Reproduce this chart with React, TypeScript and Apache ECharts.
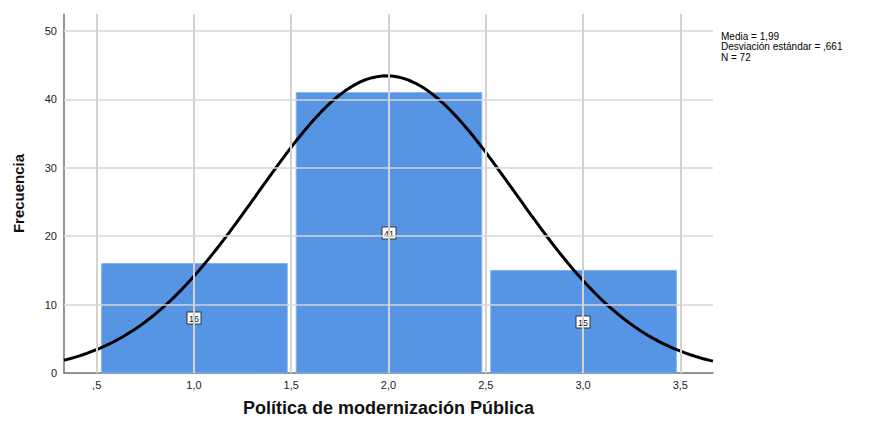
import React, { useEffect, useRef } from "react";
import * as echarts from "echarts";

// Histogram bins (lower edge, upper edge) and frequencies
const binStarts = [0.5, 1.5, 2.5];
const binEnds = [1.5, 2.5, 3.5];
const frequencies = [16, 41, 15];

// Summary statistics shown on the chart
const mean = 1.99;
const stdDev = 0.661;
const n = 72;

// Axis ticks
const xTicks = [0.5, 1.0, 1.5, 2.0, 2.5, 3.0, 3.5];
const yTicks = [0, 10, 20, 30, 40, 50];

const xMin = 0.332;
const xMax = 3.668;
const yMax = 52.5;

const FONT = "Arial, 'Liberation Sans', sans-serif";

// Normal curve implied by the displayed statistics (N * bin width * density)
function normalCurve(): number[][] {
  const pts: number[][] = [];
  const binWidth = 1;
  const steps = 200;
  for (let i = 0; i <= steps; i++) {
    const x = xMin + ((xMax - xMin) * i) / steps;
    const z = (x - mean) / stdDev;
    const y = (n * binWidth * Math.exp(-0.5 * z * z)) / (stdDev * Math.sqrt(2 * Math.PI));
    pts.push([x, y]);
  }
  return pts;
}

function fmtX(v: number): string {
  return v.toFixed(1).replace(".", ",").replace(/^0/, "");
}

function fmtNum(v: number, d: number): string {
  return v.toFixed(d).replace(".", ",").replace(/^0,/, ",");
}

export default function App() {
  const ref = useRef<HTMLDivElement>(null);

  useEffect(() => {
    if (!ref.current) return;
    const chart = echarts.init(ref.current, null, { renderer: "svg" });

    const barData = binStarts.map((s, i) => [s, binEnds[i], frequencies[i]]);

    const option: any = {
      animation: false,
      backgroundColor: "#ffffff",
      grid: { left: 64, right: 158, top: 14, bottom: 45, containLabel: false },
      xAxis: {
        type: "value",
        min: xMin,
        max: xMax,
        name: "Política de modernización Pública",
        nameLocation: "middle",
        nameGap: 26,
        nameTextStyle: { fontFamily: FONT, fontSize: 18, fontWeight: "bold", color: "#111" },
        axisLine: { show: true, onZero: false, lineStyle: { color: "#707070", width: 1.5 } },
        axisTick: { show: false, customValues: xTicks },
        axisLabel: {
          customValues: xTicks,
          formatter: (v: number) => fmtX(v),
          fontFamily: FONT,
          fontSize: 11,
          color: "#222",
          margin: 6,
        },
        splitLine: { show: false },
      },
      yAxis: {
        type: "value",
        min: 0,
        max: yMax,
        name: "Frecuencia",
        nameLocation: "middle",
        nameGap: 38,
        nameTextStyle: { fontFamily: FONT, fontSize: 15, fontWeight: "bold", color: "#111" },
        axisLine: { show: true, lineStyle: { color: "#707070", width: 1.5 } },
        axisTick: { show: false, customValues: yTicks },
        axisLabel: {
          customValues: yTicks,
          fontFamily: FONT,
          fontSize: 11,
          color: "#222",
          margin: 7,
        },
        splitLine: { show: false },
      },
      graphic: [
        {
          type: "text",
          left: 721,
          top: 31,
          style: {
            text: `Media = ${fmtNum(mean, 2)}\nDesviación estándar = ${fmtNum(stdDev, 3)}\nN = ${n}`,
            font: `10px ${FONT}`,
            fill: "#000",
            lineHeight: 10.5,
          },
        },
      ],
      series: [
        {
          type: "line",
          data: [],
          z: 1,
          silent: true,
          markLine: {
            silent: true,
            symbol: "none",
            label: { show: false },
            animation: false,
            data: [
              ...xTicks.map((v) => ({ xAxis: v, lineStyle: { color: "#d2d2d2", width: 2, type: "solid" } })),
              ...yTicks
                .filter((v) => v > 0)
                .map((v) => ({ yAxis: v, lineStyle: { color: "#d6d6d6", width: 1.5, type: "solid" } })),
            ],
          },
        },
        {
          type: "custom",
          z: 2,
          data: barData,
          renderItem: (params: any, api: any) => {
            const x0 = api.value(0);
            const x1 = api.value(1);
            const v = api.value(2);
            const p0 = api.coord([x0, 0]);
            const p1 = api.coord([x1, v]);
            const c = api.coord([(x0 + x1) / 2, v / 2]);
            const left = p0[0] + 5;
            const width = p1[0] - p0[0] - 9;
            return {
              type: "group",
              children: [
                {
                  type: "rect",
                  shape: { x: left, y: p1[1], width, height: p0[1] - p1[1] },
                  style: { fill: "#5694e4", stroke: "#7fb0ee", lineWidth: 1 },
                },
                {
                  type: "rect",
                  shape: { x: Math.round(c[0]) - 7, y: Math.round(c[1]) - 6, width: 14, height: 12 },
                  style: { fill: "#ffffff", stroke: "#333333", lineWidth: 1 },
                },
                {
                  type: "text",
                  x: Math.round(c[0]),
                  y: Math.round(c[1]) + 0.5,
                  style: {
                    text: String(v),
                    font: `9px ${FONT}`,
                    fill: "#111",
                    align: "center",
                    verticalAlign: "middle",
                  },
                },
              ],
            };
          },
        },
        {
          type: "line",
          z: 3,
          data: normalCurve(),
          showSymbol: false,
          smooth: false,
          silent: true,
          lineStyle: { color: "#000", width: 3 },
        },
      ],
    };

    chart.setOption(option);
    return () => chart.dispose();
  }, []);

  return (
    <div
      ref={ref}
      style={{ position: "absolute", left: 0, top: 0, width: 871, height: 422 }}
    />
  );
}
